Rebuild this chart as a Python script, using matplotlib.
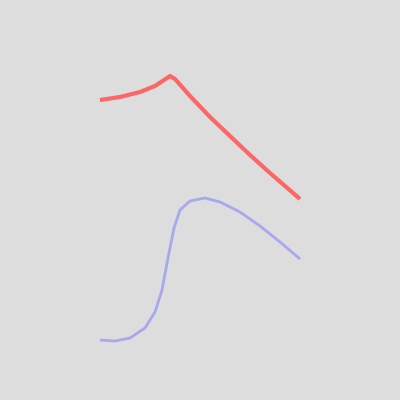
import numpy as np
import matplotlib
matplotlib.use("Agg")
import matplotlib.pyplot as plt

# Puntos (coordenadas de píxel, y hacia abajo)
rojo_x = [100, 120, 140, 155, 164, 170, 175, 190, 210, 230, 250, 270, 285, 300]
rojo_y = [100, 97, 92, 86, 80, 76, 79, 96, 117, 136, 155, 173, 186, 199]

azul_x = [100, 115, 130, 145, 155, 162, 168, 174, 180, 190, 205, 220, 240, 260, 280, 300]
azul_y = [340, 341, 338, 328, 312, 290, 258, 228, 210, 201, 198, 202, 212, 226, 242, 259]

fig = plt.figure(figsize=(4, 4), dpi=100)
fig.patch.set_facecolor('#dddddd')
ax = fig.add_axes([0, 0, 1, 1])
ax.set_facecolor('#dddddd')

ax.plot(rojo_x, rojo_y, color='#fc6666', linewidth=3.0, solid_capstyle='butt', solid_joinstyle='round')
ax.plot(azul_x, azul_y, color='#a8a8ee', linewidth=2.0, solid_capstyle='butt', solid_joinstyle='round')

ax.set_xlim(0, 400)
ax.set_ylim(400, 0)
ax.axis('off')

fig.savefig('out.png', dpi=100, facecolor='#dddddd')
